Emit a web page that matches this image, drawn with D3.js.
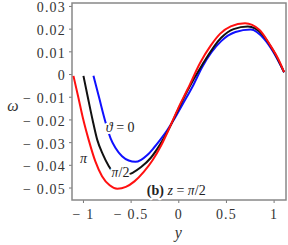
<!DOCTYPE html>
<html lang="en">
<head>
<meta charset="utf-8">
<script src="https://d3js.org/d3.v7.min.js"></script>
<style>
  body { margin: 0; background: white; }
  svg { display: block; font-family: "Liberation Serif", "DejaVu Serif", serif; }
  .tick-label { font-family: "Liberation Serif", serif; font-size: 14px; fill: #333; letter-spacing: 1.2px; }
  .curve { fill: none; stroke-width: 2; }
  .note { font-size: 14px; fill: #222; paint-order: stroke; stroke: white; stroke-width: 4px; stroke-linejoin: round; }
</style>
</head>
<body>
<svg id="chart" width="288" height="245"></svg>
<script>
// ---- data ----
const xTicks = [-1, -0.5, 0, 0.5, 1];
const yTicks = [-0.05, -0.04, -0.03, -0.02, -0.01, 0, 0.01, 0.02, 0.03];

// theta = pi (red)
const redY = [-1.10, -1.05, -1.0, -0.94, -0.87, -0.80, -0.72, -0.64, -0.55, -0.46, -0.36, -0.27, -0.18, -0.09, 0, 0.1, 0.23, 0.34, 0.44, 0.55, 0.70, 0.85, 0.96, 1.05, 1.11];
const redW = [-0.0008, -0.010, -0.0195, -0.029, -0.0385, -0.0450, -0.0490, -0.0505, -0.0497, -0.0473, -0.0430, -0.0380, -0.0315, -0.0235, -0.0150, -0.0065, 0.0050, 0.0125, 0.0178, 0.0210, 0.0224, 0.0195, 0.0130, 0.0065, 0.0008];

// theta = pi/2 (black)
const blackY = [-0.995, -0.95, -0.90, -0.85, -0.79, -0.73, -0.68, -0.63, -0.55, -0.48, -0.39, -0.29, -0.19, -0.09, 0, 0.1, 0.25, 0.45, 0.58, 0.73, 0.88, 1.0, 1.11];
const blackW = [-0.0008, -0.010, -0.020, -0.029, -0.0355, -0.0405, -0.0435, -0.0448, -0.0447, -0.0435, -0.0410, -0.0370, -0.0310, -0.0235, -0.0155, -0.0070, 0.0040, 0.0160, 0.0198, 0.0209, 0.0175, 0.0100, 0.0008];

// theta = 0 (blue)
const blueY = [-0.89, -0.83, -0.765, -0.71, -0.66, -0.59, -0.52, -0.45, -0.39, -0.325, -0.26, -0.19, -0.12, -0.05, 0.05, 0.15, 0.25, 0.45, 0.6, 0.76, 0.9, 1.0, 1.11];
const blueW = [-0.0008, -0.0105, -0.0210, -0.0283, -0.0325, -0.0362, -0.0381, -0.0387, -0.0378, -0.0357, -0.0327, -0.0290, -0.0250, -0.0204, -0.0130, -0.0055, 0.0030, 0.0145, 0.0185, 0.0196, 0.0155, 0.0095, 0.0008];

// ---- layout ----
const margin = {left: 72, top: 3, right: 2, bottom: 45};
const width = 288 - margin.left - margin.right;
const height = 245 - margin.top - margin.bottom;

const svg = d3.select('#chart');
const g = svg.append('g').attr('transform', `translate(${margin.left},${margin.top})`);

const x = d3.scaleLinear().domain([-1.115, 1.13]).range([0, width]);
const y = d3.scaleLinear().domain([-0.0555, 0.0313]).range([height, 0]);

// minus sign with a gap, like the original
function fmt(v, digits) {
  if (v === 0) return '0';
  const s = Math.abs(v).toFixed(digits);
  return v < 0 ? '\u2212 ' + s : s;
}

// axes
const xAxis = g.append('g').attr('transform', `translate(0,${height})`)
  .call(d3.axisBottom(x).tickValues(xTicks).tickSize(3).tickPadding(6)
    .tickFormat(d => fmt(d, d % 1 === 0 ? 0 : 1)));
const yAxis = g.append('g')
  .call(d3.axisLeft(y).tickValues(yTicks).tickSize(3).tickPadding(3)
    .tickFormat(d => fmt(d, 2)));

[xAxis, yAxis].forEach(a => {
  a.attr('font-family', null).attr('font-size', null);
  a.select('.domain').remove();
  a.selectAll('line').attr('stroke', '#777');
  a.selectAll('text').attr('class', 'tick-label');
});
yAxis.selectAll('text').attr('dy', '0.42em');

// frame
g.append('rect')
  .attr('width', width).attr('height', height)
  .attr('fill', 'none').attr('stroke', '#888').attr('stroke-width', 1.5);

// curves
g.append('clipPath').attr('id', 'clip')
  .append('rect').attr('width', width).attr('height', height);

const line = d3.line()
  .x(d => x(d[0])).y(d => y(d[1]))
  .curve(d3.curveMonotoneX);

const series = [
  {ys: blueY, ws: blueW, color: '#1010ff'},
  {ys: blackY, ws: blackW, color: '#111'},
  {ys: redY, ws: redW, color: '#ff1010'}
];

g.append('g').attr('clip-path', 'url(#clip)')
  .selectAll('path')
  .data(series)
  .join('path')
  .attr('class', 'curve')
  .attr('stroke', d => d.color)
  .attr('d', d => line(d3.zip(d.ys, d.ws)));

// labels on the curves
function note(px, py, parts) {
  const t = g.append('text').attr('class', 'note').attr('x', px).attr('y', py);
  parts.forEach(p => {
    t.append('tspan')
      .attr('font-style', p.i ? 'italic' : null)
      .attr('font-weight', p.b ? 'bold' : null)
      .text(p.t);
  });
  return t;
}

note(x(-0.76), y(-0.0255), [{t: '\u03d1', i: true}, {t: ' = 0'}]);
note(x(-0.70), y(-0.0452), [{t: '\u03c0', i: true}, {t: '/2'}]);
note(x(-1.03), y(-0.0393), [{t: '\u03c0', i: true}]);
note(x(-0.33), y(-0.0532), [{t: '(b)', b: true}, {t: ' '}, {t: 'z', i: true}, {t: ' = '}, {t: '\u03c0', i: true}, {t: '/2'}]);

// axis titles
svg.append('text')
  .attr('x', 13).attr('y', 111)
  .attr('text-anchor', 'middle')
  .attr('font-size', 16).attr('font-style', 'italic').attr('fill', '#333')
  .text('\u03c9');

svg.append('text')
  .attr('x', margin.left + x(0)).attr('y', 238)
  .attr('text-anchor', 'middle')
  .attr('font-size', 16).attr('font-style', 'italic').attr('fill', '#333')
  .text('y');
</script>
</body>
</html>
